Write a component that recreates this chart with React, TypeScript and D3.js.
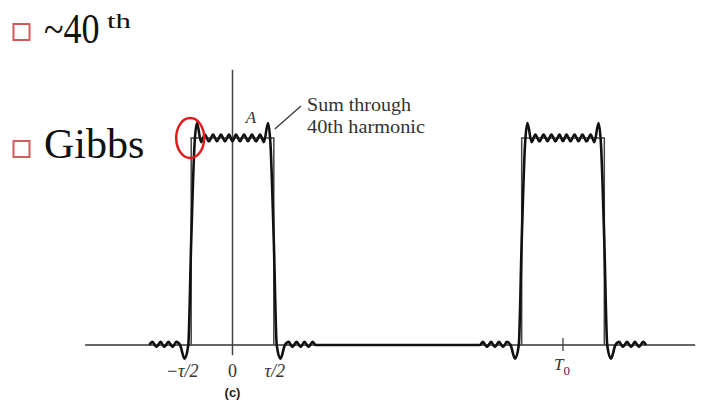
import * as d3 from "d3";

// pulse train, time in units of T0, amplitude in units of A
const pulseCenters = [0, 1];
const TAU = 0.25;

// left half of one pulse of the 40-harmonic sum (u in units of tau/2), mirrored for the right half
const halfShapeU = [-2.01, -1.94, -1.84, -1.74, -1.65, -1.55, -1.45, -1.36, -1.27, -1.16, -1.07, -1.0, -0.92, -0.86, -0.76, -0.67, -0.57, -0.47, -0.375, -0.28, -0.18, -0.085, 0];
const halfShapeV = [0, 0.015, -0.01, 0.015, -0.01, 0.015, -0.01, 0.015, 0, -0.066, 0, 0.5, 0.966, 1.072, 0.98, 1.017, 0.984, 1.017, 0.984, 1.017, 0.984, 1.017, 0.984];

const tickTimes = [-TAU / 2, 0, TAU / 2];
const tickLabels = ["\u2212\u03c4/2", "0", "\u03c4/2"];

const axisT = [-0.446, 1.4];
const vAxisV = [-0.05, 1.33];

const bullets = [
  { y: 24, text: "~40", sup: "th", baseline: 43, sx: 0.86 },
  { y: 141, text: "Gibbs", sup: "", baseline: 158, sx: 1.0 },
];

const serif = "'Liberation Serif', 'Times New Roman', serif";

export default function App() {
  const x = d3.scaleLinear().domain([0, 1]).range([232.5, 563]);
  const y = d3.scaleLinear().domain([0, 1]).range([345, 138]);

  const pts: [number, number][] = [];
  pulseCenters.forEach((c) => {
    halfShapeU.forEach((u, i) => pts.push([c + (u * TAU) / 2, halfShapeV[i]]));
    for (let i = halfShapeU.length - 2; i >= 0; i--) {
      pts.push([c - (halfShapeU[i] * TAU) / 2, halfShapeV[i]]);
    }
  });

  const line = d3
    .line<[number, number]>()
    .x((d) => x(d[0]))
    .y((d) => y(d[1]))
    .curve(d3.curveMonotoneX);

  return (
    <svg
      width={701}
      height={406}
      style={{ position: "absolute", left: 0, top: 0, display: "block", background: "#fff" }}
    >
      {/* slide bullets */}
      {bullets.map((b) => (
        <g key={b.text}>
          <rect x={13.5} y={b.y} width={16} height={16} fill="#fff" stroke="#d05c5c" strokeWidth={2} />
          <text
            transform={`translate(44,${b.baseline}) scale(${b.sx},1)`}
            fontFamily={serif}
            fontSize={42}
            fill="#111"
          >
            {b.text}
          </text>
          {b.sup && (
            <text x={107} y={28} fontFamily={serif} fontSize={22} fill="#111" textLength={24} lengthAdjust="spacingAndGlyphs">
              {b.sup}
            </text>
          )}
        </g>
      ))}

      {/* axes */}
      <line x1={x(axisT[0])} x2={x(axisT[1])} y1={y(0)} y2={y(0)} stroke="#333" strokeWidth={1.5} />
      <line x1={x(0)} x2={x(0)} y1={y(vAxisV[0])} y2={y(vAxisV[1])} stroke="#444" strokeWidth={1.5} />
      <line x1={x(1)} x2={x(1)} y1={y(0) - 7} y2={y(0) + 6} stroke="#444" strokeWidth={1.3} />

      {/* ideal pulses */}
      {pulseCenters.map((c) => (
        <path
          key={c}
          d={`M${x(c - TAU / 2)},${y(0)}V${y(1)}H${x(c + TAU / 2)}V${y(0)}`}
          fill="none"
          stroke="#444"
          strokeWidth={1.5}
        />
      ))}

      {/* fourier sum */}
      <path d={line(pts) ?? ""} fill="none" stroke="#111" strokeWidth={2.6} strokeLinejoin="round" />

      {/* tick labels */}
      {tickTimes.map((t, i) => (
        <text
          key={i}
          x={x(t) + (i === 0 ? -9 : i === 2 ? 1 : 0)}
          y={377}
          textAnchor="middle"
          fontFamily={serif}
          fontSize={18}
          fontStyle={i === 1 ? "normal" : "italic"}
          fill="#333"
        >
          {tickLabels[i]}
        </text>
      ))}
      <text x={x(1) - 1} y={370} textAnchor="middle" fontFamily={serif} fontSize={17} fontStyle="italic" fill="#333">
        T
        <tspan dy={5} fontSize={13} fontStyle="normal">
          0
        </tspan>
      </text>
      <text x={x(0)} y={397} textAnchor="middle" fontFamily="'Liberation Sans', Arial, sans-serif" fontSize={13} fontWeight="bold" fill="#222">
        (c)
      </text>

      {/* annotations */}
      <text x={251} y={123} textAnchor="middle" fontFamily={serif} fontSize={17} fontStyle="italic" fill="#333">
        A
      </text>
      <line x1={x(TAU / 2) + 1} y1={y(1) - 9} x2={301} y2={106} stroke="#333" strokeWidth={1.2} />
      <text x={307} y={111} fontFamily={serif} fontSize={18} fill="#333" textLength={104} lengthAdjust="spacingAndGlyphs">
        Sum through
      </text>
      <text x={307} y={133} fontFamily={serif} fontSize={18} fill="#333" textLength={118} lengthAdjust="spacingAndGlyphs">
        40th harmonic
      </text>

      {/* highlight */}
      <ellipse cx={x(-TAU / 2) - 1} cy={y(1)} rx={14} ry={20} fill="none" stroke="#e4191c" strokeWidth={2.5} />
    </svg>
  );
}
